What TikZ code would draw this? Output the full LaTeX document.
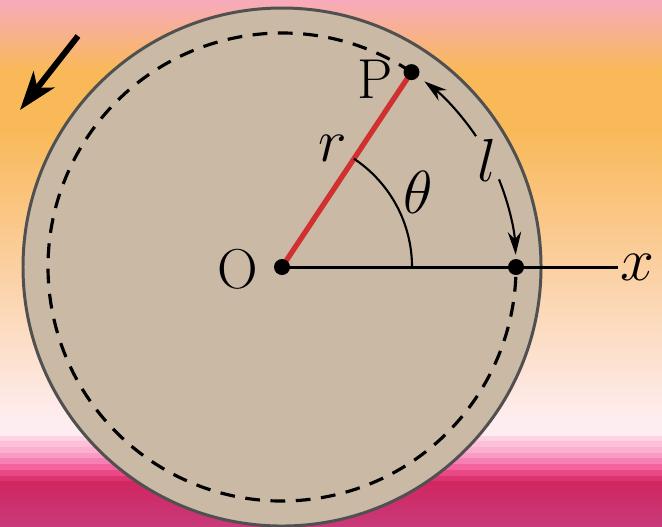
\documentclass[tikz,border=0pt]{standalone}
\usepackage{amsmath,amssymb}
\usepackage{xcolor}
\usepackage{tikz}
\usetikzlibrary{arrows.meta,calc}
\definecolor{skypink}{RGB}{247,170,188}
\definecolor{skyorange}{RGB}{249,185,88}
\definecolor{skypeach}{RGB}{250,201,142}
\definecolor{skylight}{RGB}{254,237,240}
\definecolor{skyfloor}{RGB}{209,38,96}
\definecolor{skydeep}{RGB}{200,58,122}
\definecolor{stA}{RGB}{253,211,227}
\definecolor{stB}{RGB}{252,192,216}
\definecolor{stC}{RGB}{250,176,206}
\definecolor{stD}{RGB}{248,156,195}
\definecolor{stE}{RGB}{246,128,179}
\definecolor{stF}{RGB}{244,98,160}
\definecolor{stG}{RGB}{233,73,133}
\definecolor{stH}{RGB}{220,52,112}
\definecolor{discfill}{RGB}{201,185,165}
\definecolor{discrim}{RGB}{80,80,80}
\definecolor{radred}{RGB}{208,48,48}

\begin{document}
\begin{tikzpicture}[x=0.01cm,y=0.01cm,font=\fontsize{16}{19}\selectfont,
  dot/.style={fill=black},
  thinarrow/.style={line width=0.6pt,-{Stealth[length=6.5pt,width=3.8pt]}}]
  \useasboundingbox (0,0) rectangle (662,526);
  \clip (0,0) rectangle (662,526);
  % ---- background: sunset bands ----
  \shade[top color=skypink,bottom color=skyorange] (0,455) rectangle (662,527);
  \fill[skyorange] (0,396) rectangle (662,456);
  \shade[top color=skyorange,bottom color=skypeach] (0,295) rectangle (662,397);
  \shade[top color=skypeach,bottom color=skylight] (0,105) rectangle (662,296);
  \fill[skylight] (0,90) rectangle (662,106);
  \foreach \ya/\yb/\c in {85/90/stA,79/85/stB,73/79/stC,68/73/stD,
                          62/68/stE,56/62/stF,50/56/stG,45/50/stH}{
    \fill[\c] (0,\ya) rectangle (662,\yb);}
  \shade[top color=skyfloor,bottom color=skydeep] (-1,-1) rectangle (662,45);
  % ---- disc ----
  \coordinate (O) at (282,259);
  \fill[discfill] (O) circle[radius=259];
  \draw[discrim,line width=0.85pt] (O) circle[radius=259];
  \coordinate (P) at ($(O)+(56.4:234)$);
  \coordinate (A) at ($(O)+(0:234)$);
  \coordinate (X) at (618,259);
  \draw[line width=0.9pt,dash pattern=on 4.2pt off 3pt]
       (P) arc[start angle=56.4,end angle=360,radius=234];
  % ---- axis, radius and angle ----
  \draw[line width=0.85pt] (O) -- (X);
  \draw[radred,line width=1.5pt] (O) -- (P);
  \coordinate (T0) at ($(O)+(0:130)$);
  \draw[line width=0.6pt] (T0) arc[start angle=0,end angle=56.4,radius=130];
  % ---- arc length l ----
  \coordinate (L1) at ($(O)+(34:234)$);
  \coordinate (L2) at ($(O)+(22:234)$);
  \draw[thinarrow] (L1) arc[start angle=34,end angle=52.5,radius=234];
  \draw[thinarrow] (L2) arc[start angle=22,end angle=3,radius=234];
  % ---- points ----
  \fill[dot] (O) circle[radius=8];
  \fill[dot] (P) circle[radius=8];
  \fill[dot] (A) circle[radius=8];
  % ---- labels ----
  \node (lO) at (238,257) {O};
  \node (lP) at (375,447) {P};
  \node (lr) at (333,378) {$r$};
  \node (lt) at (418,334) {$\theta$};
  \node (ll) at (487,366) {$l$};
  \node (lx) at (637,259) {$x$};
  % ---- sense of rotation ----
  \coordinate (R1) at (78,490);
  \coordinate (R2) at (20,416);
  \draw[line width=1.7pt,-{Stealth[length=11pt,width=7.5pt,inset=3pt]}] (R1) -- (R2);
\end{tikzpicture}
\end{document}
